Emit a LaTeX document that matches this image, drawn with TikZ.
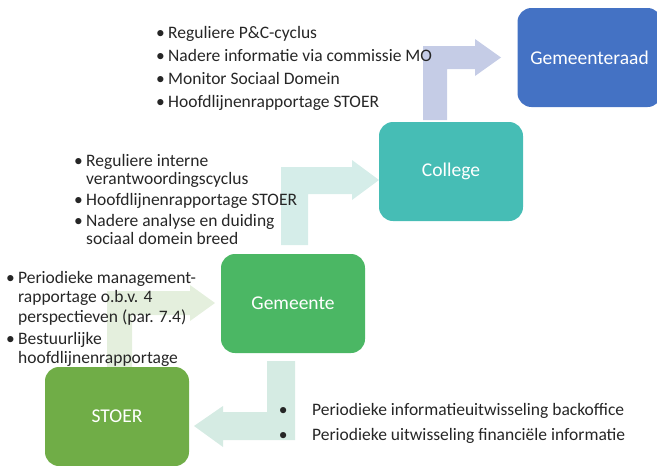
\documentclass[tikz,border=0pt]{standalone}
\usepackage{fontspec}
\setmainfont{Carlito}
\usepackage{tikz}
\tikzset{>=latex}
\definecolor{raad}{HTML}{4472C4}
\definecolor{college}{HTML}{46BDB5}
\definecolor{gemeente}{HTML}{4BB764}
\definecolor{stoer}{HTML}{70AD47}
\definecolor{raadpijl}{HTML}{C5CCE6}
\definecolor{collegepijl}{HTML}{D5EDE9}
\definecolor{gemeentepijl}{HTML}{E4EFDD}
\definecolor{stoerpijl}{HTML}{D5EBE3}
\definecolor{tekst}{HTML}{262626}
\newcommand{\bol}{\strut\makebox[12pt][l]{•}}
\newcommand{\bolbreed}{\strut\makebox[33.4pt][l]{•}}
\newcommand{\inspring}{\hspace*{12pt}}
\tikzset{
  orgaan/.style={rounded corners=14pt, minimum width=144pt, minimum height=99pt,
    text=white, font=\fontsize{19.5}{23}\selectfont},
  lijst/.style={anchor=north west, inner sep=0pt, align=left, text=tekst},
}

\begin{document}
\begin{tikzpicture}[x=1pt, y=-1pt]
  \useasboundingbox (0,0) rectangle (657,466);
  % pijlen
  \fill[raadpijl] (423,120) -- (423,46) -- (475,46) -- (475,39) -- (501,57.5)
    -- (475,76) -- (475,69) -- (447,69) -- (447,120) -- cycle;
  \fill[collegepijl] (281,245) -- (281,167) -- (352,167) -- (352,160) -- (379,180)
    -- (352,200) -- (352,194) -- (308,194) -- (308,245) -- cycle;
  \fill[gemeentepijl] (107,367) -- (107,291) -- (190,291) -- (190,285) -- (215,303)
    -- (190,321) -- (190,315) -- (132,315) -- (132,367) -- cycle;
  \fill[stoerpijl] (267,361) -- (295,361) -- (295,440) -- (223,440) -- (223,447)
    -- (194,426) -- (223,406) -- (223,412) -- (267,412) -- cycle;
  % organen
  \node[orgaan, fill=raad] (raad) at (589.5,57.5) {Gemeenteraad};
  \node[orgaan, fill=college] (college) at (451,171.5) {College};
  \node[orgaan, fill=gemeente] (gemeente) at (293,303.5) {Gemeente};
  \node[orgaan, fill=stoer] (stoer) at (117,416.5) {STOER};
  % toelichting
  \node[lijst, font=\fontsize{17.5}{23}\selectfont] (raadinfo) at (156,21.9)
    {\bol Reguliere P\&C-cyclus\\ \bol Nadere informatie via commissie MO\\
     \bol Monitor Sociaal Domein\\ \bol Hoofdlijnenrapportage STOER};
  \node[lijst, font=\fontsize{17.5}{18}\selectfont] (collegeinfo) at (74,153.4)
    {\bol Reguliere interne\\ \inspring verantwoordingscyclus\\[3pt]
     \bol Hoofdlijnenrapportage STOER\\[3pt]
     \bol Nadere analyse en duiding\\ \inspring sociaal domein breed};
  \node[lijst, font=\fontsize{17.5}{19.5}\selectfont] (gemeenteinfo) at (6,269.35)
    {\bol Periodieke management-\\ \inspring rapportage o.b.v. 4\\
     \inspring perspectieven (par. 7.4)\\[2.5pt]
     \bol Bestuurlijke\\ \inspring hoofdlijnenrapportage};
  \node[lijst, font=\fontsize{17.5}{25}\selectfont] (stoerinfo) at (278.6,397.5)
    {\bolbreed Periodieke informatieuitwisseling backoffice\\
     \bolbreed Periodieke uitwisseling financiële informatie};
\end{tikzpicture}
\end{document}
